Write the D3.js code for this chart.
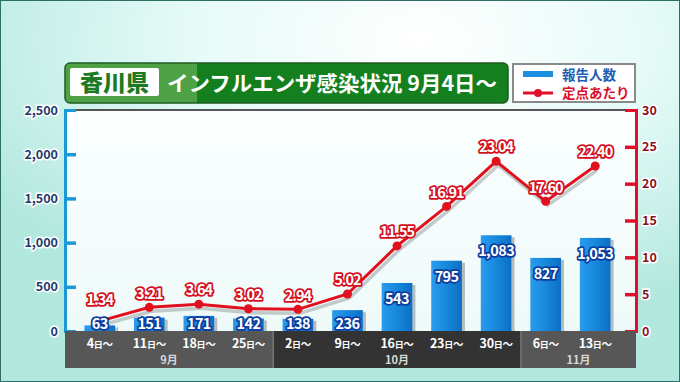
<!DOCTYPE html>
<html><head><meta charset="utf-8">
<script src="https://cdn.jsdelivr.net/npm/d3@7"></script>
<style>
html,body{margin:0;padding:0;background:#fff;}
svg{display:block;}
text{font-family:"Noto Sans CJK JP","Noto Sans",sans-serif;}
</style></head>
<body>
<script>
const dates = ["4","11","18","25","2","9","16","23","30","6","13"];
const months = [{label:"9月", from:0, to:3},{label:"10月", from:4, to:8},{label:"11月", from:9, to:10}];
const reports = [63,151,171,142,138,236,543,795,1083,827,1053];
const perSite = [1.34,3.21,3.64,3.02,2.94,5.02,11.55,16.91,23.04,17.60,22.40];
const leftTicks = [0,500,1000,1500,2000,2500];
const rightTicks = [0,5,10,15,20,25,30];
const titlePref = "香川県";
const titleText = "インフルエンザ感染状況 9月4日～";
const legendLabels = ["報告人数","定点あたり"];

const W=680,H=382;
const svg=d3.select("body").append("svg").attr("width",W).attr("height",H);
const defs=svg.append("defs");

// background gradient
const bg=defs.append("radialGradient").attr("id","bg").attr("cx","0.62").attr("cy","0.1").attr("r","0.75");
bg.append("stop").attr("offset","0").attr("stop-color","#ffffff");
bg.append("stop").attr("offset","0.45").attr("stop-color","#e6fbf8");
bg.append("stop").attr("offset","1").attr("stop-color","#b3e8df");
svg.append("rect").attr("width",W).attr("height",H).attr("fill","url(#bg)");
svg.append("rect").attr("x",0.5).attr("y",0.5).attr("width",W-1).attr("height",H-1).attr("fill","none").attr("stroke","#2d6e66").attr("stroke-width",1);

const L=65,R=636,T=110,B=331;
const x=d3.scaleBand().domain(d3.range(dates.length)).range([75,620]).paddingInner(0.38).paddingOuter(0.19);
const yL=d3.scaleLinear().domain([0,2500]).range([B,T]);
const yR=d3.scaleLinear().domain([0,30]).range([B,T]);

// plot area bg
const pg=defs.append("linearGradient").attr("id","pg").attr("x1",0).attr("y1",0).attr("x2",0).attr("y2",1);
pg.append("stop").attr("offset",0).attr("stop-color","#fbffff");
pg.append("stop").attr("offset",1).attr("stop-color","#eefaf9");
svg.append("rect").attr("x",L).attr("y",T).attr("width",R-L).attr("height",B-T).attr("fill","url(#pg)");
svg.append("line").attr("x1",L).attr("x2",R).attr("y1",T).attr("y2",T).attr("stroke","#555").attr("stroke-width",2);

// title
svg.append("rect").attr("x",65).attr("y",63).attr("width",443).attr("height",40).attr("rx",5).attr("fill","#137f1f").attr("stroke","#1f5a22").attr("stroke-width",1.5);
svg.append("path").attr("d","M70,63.8 H197 V102.2 H70 Q65.8,102.2 65.8,98 V68 Q65.8,63.8 70,63.8 Z").attr("fill","#4ea145");
svg.append("rect").attr("x",70).attr("y",68).attr("width",89).attr("height",28).attr("rx",2).attr("fill","#ffffff");
svg.append("text").attr("x",114.5).attr("y",83).attr("dy","0.36em").attr("text-anchor","middle")
  .attr("font-size",23).attr("font-weight",900).attr("fill","#1d7a22").text(titlePref);
svg.append("text").attr("x",167).attr("y",83).attr("dy","0.36em")
  .attr("font-size",21).attr("font-weight",700).attr("fill","#fff").attr("textLength",330).attr("lengthAdjust","spacingAndGlyphs").text(titleText);

// legend
svg.append("rect").attr("x",513).attr("y",64).attr("width",122).attr("height",38).attr("fill","#fff").attr("stroke","#8a8a8a").attr("stroke-width",2);
svg.append("rect").attr("x",523).attr("y",71).attr("width",30).attr("height",6).attr("fill","#1b8fe0");
svg.append("text").attr("x",562).attr("y",75).attr("dy","0.36em").attr("font-size",13.5).attr("font-weight",700).attr("fill","#1d5db5").text(legendLabels[0]);
svg.append("line").attr("x1",523).attr("x2",553).attr("y1",93).attr("y2",93).attr("stroke","#e0102a").attr("stroke-width",3);
svg.append("circle").attr("cx",538).attr("cy",93).attr("r",4).attr("fill","#e0102a");
svg.append("text").attr("x",562).attr("y",93).attr("dy","0.36em").attr("font-size",13.5).attr("font-weight",700).attr("fill","#d8102a").text(legendLabels[1]);

// bars
const bgB=defs.append("linearGradient").attr("id","bar").attr("x1",0).attr("y1",0).attr("x2",1).attr("y2",0);
bgB.append("stop").attr("offset",0).attr("stop-color","#2a9cee");
bgB.append("stop").attr("offset",0.5).attr("stop-color","#1788dc");
bgB.append("stop").attr("offset",1).attr("stop-color","#0b6fc4");
const bw=x.bandwidth();
svg.append("g").selectAll("rect").data(reports).join("rect")
  .attr("x",(d,i)=>x(i)+bw).attr("y",d=>yL(d)+2).attr("width",3).attr("height",d=>B-yL(d)-2).attr("fill","#b4bcbc");
svg.append("g").selectAll("rect").data(reports).join("rect")
  .attr("x",(d,i)=>x(i)).attr("y",d=>yL(d)).attr("width",bw).attr("height",d=>B-yL(d)).attr("fill","url(#bar)");

// axes
const axL=svg.append("g").attr("transform",`translate(${L},0)`).call(d3.axisRight(yL).tickValues(leftTicks).tickSize(11).tickFormat(d3.format(",")));
axL.select(".domain").attr("stroke","#1a98d8").attr("stroke-width",3);
axL.selectAll(".tick line").attr("stroke","#1a98d8").attr("stroke-width",3.5);
axL.selectAll(".tick").filter(d=>d===0||d===2500).select("line").remove();
axL.selectAll(".tick text").attr("x",-7).attr("text-anchor","end").attr("font-size",12.5).attr("font-weight",700)
  .attr("fill","#1b3a6b").attr("stroke","#fff").attr("stroke-width",3).attr("paint-order","stroke").attr("font-family","'Noto Sans','Noto Sans CJK JP',sans-serif");

const axR=svg.append("g").attr("transform",`translate(${R},0)`).call(d3.axisLeft(yR).tickValues(rightTicks).tickSize(11));
axR.select(".domain").attr("stroke","#e0102a").attr("stroke-width",3);
axR.selectAll(".tick line").attr("stroke","#e0102a").attr("stroke-width",3.5);
axR.selectAll(".tick").filter(d=>d===0||d===30).select("line").remove();
axR.selectAll(".tick text").attr("x",6).attr("text-anchor","start").attr("font-size",12.5).attr("font-weight",700)
  .attr("fill","#8a0f1e").attr("stroke","#fff").attr("stroke-width",3).attr("paint-order","stroke").attr("font-family","'Noto Sans','Noto Sans CJK JP',sans-serif");
axL.select(".domain").raise(); axR.select(".domain").raise();

// category band
const edges=[L,...months.slice(1).map(m=>x(m.from)-x.step()*x.paddingInner()/2),R];
const bandFill=["#575757","#333333","#575757"];
months.forEach((m,k)=>{
  const x0=edges[k], x1=edges[k+1];
  svg.append("rect").attr("x",x0).attr("y",B).attr("width",x1-x0).attr("height",37).attr("fill",bandFill[k]);
  svg.append("text").attr("x",(x0+x1)/2).attr("y",360.5).attr("dy","0.36em").attr("text-anchor","middle")
    .attr("font-size",11).attr("font-weight",700).attr("fill","#d8d8d8").text(m.label);
});
edges.slice(1,-1).forEach(e=>svg.append("line").attr("x1",e).attr("x2",e).attr("y1",B).attr("y2",B+37).attr("stroke","#888").attr("stroke-width",1));
const dl=svg.append("g").selectAll("text").data(dates).join("text")
  .attr("x",(d,i)=>x(i)+bw/2).attr("y",342.5).attr("dy","0.36em").attr("text-anchor","middle")
  .attr("font-weight",700).attr("fill","#fff").attr("letter-spacing",-0.3);
dl.append("tspan").attr("font-size",12.5).text(d=>d);
dl.append("tspan").attr("font-size",9).text("日");
dl.append("tspan").attr("font-size",10.5).text("～");

// line
const line=d3.line().x((d,i)=>x(i)+bw/2).y(d=>yR(d));
svg.append("path").datum(perSite).attr("d",line).attr("transform","translate(2,4)").attr("fill","none").attr("stroke","#8f9a9a").attr("stroke-opacity",0.5).attr("stroke-width",3.5);
svg.append("path").datum(perSite).attr("d",line).attr("fill","none").attr("stroke","#e0101e").attr("stroke-width",3);
svg.append("g").selectAll("circle").data(perSite).join("circle")
  .attr("cx",(d,i)=>x(i)+bw/2).attr("cy",d=>yR(d)).attr("r",4.5).attr("fill","#e0101e");

// bar labels (on top of line)
svg.append("g").selectAll("text").data(reports).join("text")
  .attr("x",(d,i)=>x(i)+bw/2).attr("y",d=>Math.min(yL(d)+16,324)).attr("dy","0.36em").attr("text-anchor","middle")
  .attr("font-size",14.5).attr("font-weight",700).attr("letter-spacing",-0.6).attr("fill","#fff")
  .attr("stroke","#0d3d9e").attr("stroke-width",3.5).attr("stroke-linejoin","round").attr("paint-order","stroke")
  .attr("font-family","'Noto Sans','Noto Sans CJK JP',sans-serif")
  .text(d=>d3.format(",")(d));

// line labels
svg.append("g").selectAll("text").data(perSite).join("text")
  .attr("x",(d,i)=>x(i)+bw/2).attr("y",d=>Math.min(yR(d)-14,300)).attr("dy","0.36em").attr("text-anchor","middle")
  .attr("font-size",14.5).attr("font-weight",700).attr("letter-spacing",-1).attr("fill","#fff")
  .attr("stroke","#d4101e").attr("stroke-width",3.5).attr("stroke-linejoin","round").attr("paint-order","stroke")
  .attr("font-family","'Noto Sans','Noto Sans CJK JP',sans-serif")
  .text(d=>d.toFixed(2));
</script>
</body></html>
